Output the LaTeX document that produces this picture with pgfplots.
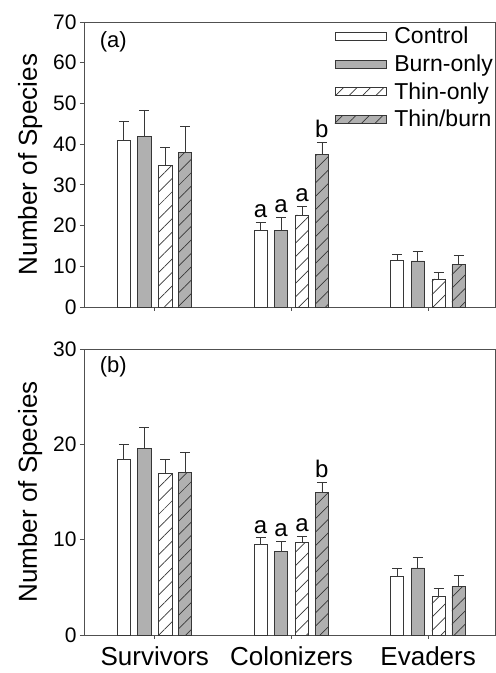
\documentclass[border=0pt]{standalone}
\usepackage{pgfplots}
\usepackage{pgfplotstable}
\pgfplotsset{compat=1.18}
\usetikzlibrary{patterns.meta}
\usepackage{fontspec}
\setmainfont{Liberation Sans}

\definecolor{edge}{RGB}{55,55,55}
\definecolor{frame}{RGB}{80,80,80}
\definecolor{barg}{RGB}{176,176,176}

% per-unit layout: 1pt = 1px of the reference
\pgfplotsset{
  panel/.style={
    scale only axis, width=411pt,
    xmin=-0.518, xmax=2.489, xtick={0,1,2},
    axis line style={draw=frame, line width=0.8pt},
    tick style={draw=frame, line width=0.8pt},
    tick align=outside, major tick length=4pt,
    xtick pos=bottom, ytick pos=left,
    minor tick num=0,
    ticklabel style={font=\fontsize{21}{21}\selectfont},
    /pgf/number format/assume math mode=true,
    ylabel={Number of Species},
    ylabel style={at={(axis description cs:-0.131,0.5)}, anchor=center,
      font=\fontsize{26}{26}\selectfont},
    clip=false,
  },
  bars/.style={ybar, bar width=13.3pt, bar shift=0pt, draw=edge, line width=0.8pt,
    error bars/y dir=plus, error bars/y explicit,
    error bars/error bar style={draw=edge, line width=0.8pt},
    error bars/error mark options={rotate=90, mark size=5pt, draw=edge, line width=0.8pt}},
  hatch/.style={postaction={pattern={Lines[angle=45,distance=9.5pt,line width=0.7pt]}, pattern color=edge}},
  legend image code/.code={\draw[#1] (0pt,-4pt) rectangle (51pt,4pt);},
}

\pgfplotstableread{
x y e
0 40.8 4.7
1 18.7 2.1
2 11.4 1.6
}\actrl
\pgfplotstableread{
x y e
0 41.9 6.5
1 18.9 3.1
2 11.3 2.3
}\aburn
\pgfplotstableread{
x y e
0 34.7 4.6
1 22.6 2.2
2 6.9 1.6
}\athin
\pgfplotstableread{
x y e
0 37.9 6.5
1 37.4 3.1
2 10.4 2.3
}\atb

\pgfplotstableread{
x y e
0 18.46 1.54
1 9.50 0.70
2 6.12 0.84
}\bctrl
\pgfplotstableread{
x y e
0 19.60 2.15
1 8.78 1.05
2 7.03 1.12
}\bburn
\pgfplotstableread{
x y e
0 16.90 1.50
1 9.69 0.69
2 4.06 0.84
}\bthin
\pgfplotstableread{
x y e
0 17.06 2.10
1 14.93 1.05
2 5.10 1.19
}\btb

% offsets of the four bars within a group, in axis units
\def\oA{-0.2263}\def\oB{-0.0766}\def\oC{0.0766}\def\oD{0.2226}

\begin{document}
\begin{tikzpicture}
\begin{axis}[panel, at={(84pt,366pt)}, anchor=south west, height=285pt,
  ymin=0, ymax=70, ytick={0,10,...,70}, xticklabels={},
  legend style={at={(axis description cs:1,1)}, anchor=north east,
    draw=none, fill=none, font=\fontsize{23}{23}\selectfont,
    row sep=5.5pt, inner xsep=0pt, inner ysep=3pt,
    /tikz/every odd column/.append style={column sep=6pt}},
  legend cell align=left,
]
\addplot[bars, fill=white] table[x expr=\thisrow{x}+\oA, y=y, y error=e]{\actrl};
\addplot[bars, fill=barg] table[x expr=\thisrow{x}+\oB, y=y, y error=e]{\aburn};
\addplot[bars, fill=white, hatch] table[x expr=\thisrow{x}+\oC, y=y, y error=e]{\athin};
\addplot[bars, fill=barg, hatch] table[x expr=\thisrow{x}+\oD, y=y, y error=e]{\atb};
\legend{Control, Burn-only, Thin-only, Thin/burn}
\node[anchor=west, font=\fontsize{22}{22}\selectfont] at (axis description cs:0.03,1) [yshift=-20pt] {(a)};
\begin{scope}[every node/.style={anchor=south, inner sep=0pt, font=\fontsize{24}{24}\selectfont}]
\node at (axis cs:1+\oA,20.8) [yshift=4pt] {a};
\node at (axis cs:1+\oB,22.0) [yshift=4pt] {a};
\node at (axis cs:1+\oC,24.8) [yshift=4pt] {a};
\node at (axis cs:1+\oD,40.5) [yshift=4pt] {b};
\end{scope}
\end{axis}

\begin{axis}[panel, at={(84pt,38pt)}, anchor=south west, height=286pt,
  ymin=0, ymax=30, ytick={0,10,20,30},
  xticklabels={Survivors, Colonizers, Evaders},
  xticklabel style={font=\fontsize{26}{26}\selectfont, yshift=-4pt},
]
\addplot[bars, fill=white] table[x expr=\thisrow{x}+\oA, y=y, y error=e]{\bctrl};
\addplot[bars, fill=barg] table[x expr=\thisrow{x}+\oB, y=y, y error=e]{\bburn};
\addplot[bars, fill=white, hatch] table[x expr=\thisrow{x}+\oC, y=y, y error=e]{\bthin};
\addplot[bars, fill=barg, hatch] table[x expr=\thisrow{x}+\oD, y=y, y error=e]{\btb};
\node[anchor=west, font=\fontsize{22}{22}\selectfont] at (axis description cs:0.03,1) [yshift=-18pt] {(b)};
\begin{scope}[every node/.style={anchor=south, inner sep=0pt, font=\fontsize{24}{24}\selectfont}]
\node at (axis cs:1+\oA,10.20) [yshift=4pt] {a};
\node at (axis cs:1+\oB,9.83) [yshift=4pt] {a};
\node at (axis cs:1+\oC,10.38) [yshift=4pt] {a};
\node at (axis cs:1+\oD,15.98) [yshift=5pt] {b};
\end{scope}
\end{axis}
\pgfresetboundingbox
\path[use as bounding box] (0,0) rectangle (496pt,673pt);
\end{tikzpicture}
\end{document}
